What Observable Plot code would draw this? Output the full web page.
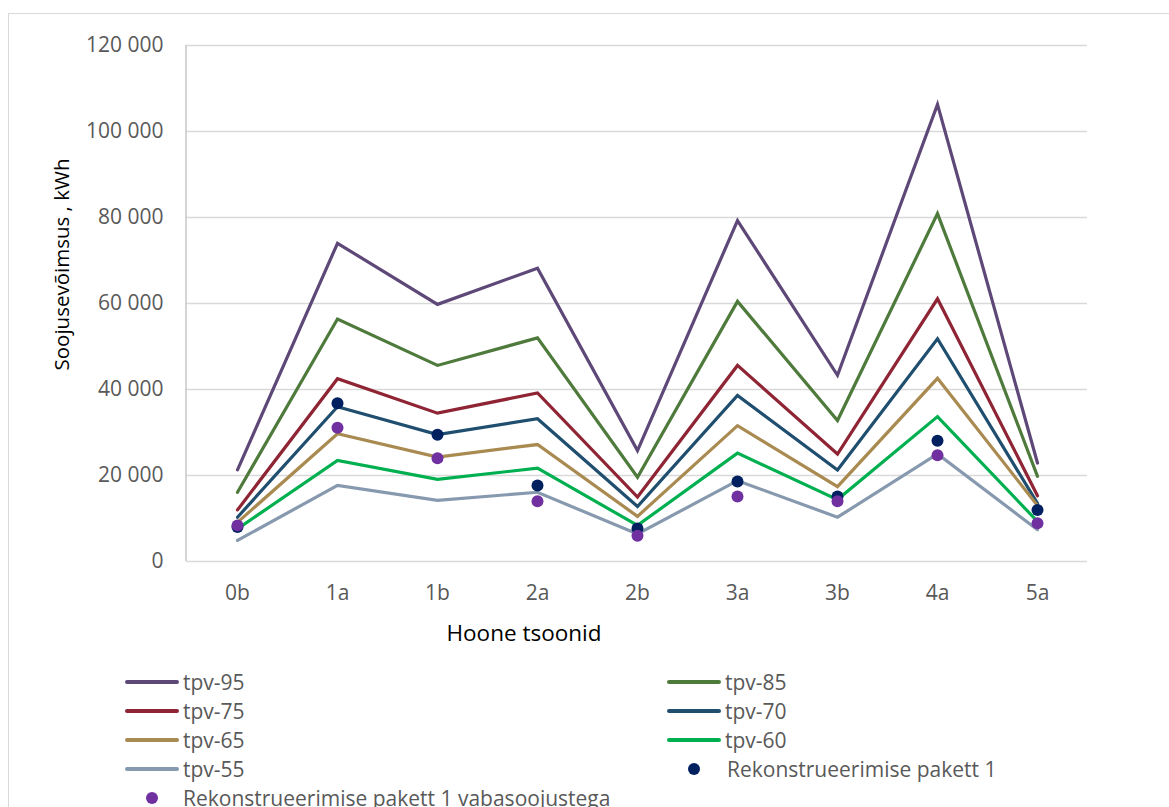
<!DOCTYPE html>
<html>
<head>
<meta charset="utf-8">
<script src="https://cdn.jsdelivr.net/npm/d3@7"></script>
<script src="https://cdn.jsdelivr.net/npm/@observablehq/plot@0.6"></script>
<style>
  html, body { margin: 0; padding: 0; background: #fff; }
  #page { position: relative; width: 1169px; height: 807px; overflow: hidden; font-family: "Open Sans", sans-serif; }
  #border { position: absolute; left: 8px; top: 13px; width: 1300px; height: 1000px; border: 1px solid #d9d9d9; box-sizing: border-box; }
  #chart { position: absolute; left: 0; top: 0; }
  .item { position: absolute; height: 30px; display: flex; align-items: center; font-size: 21px; color: #595959; white-space: nowrap; }
  .sw { width: 54px; display: flex; justify-content: center; align-items: center; margin-right: 4px; }
  .ln { width: 54px; height: 4px; border-radius: 2px; }
  .dt { width: 12px; height: 12px; border-radius: 50%; }
</style>
</head>
<body>
<div id="page">
  <div id="border"></div>
  <div id="chart"></div>
  <div id="legend"></div>
</div>
<script>
// Building zones (x categories)
const zones = ["0b", "1a", "1b", "2a", "2b", "3a", "3b", "4a", "5a"];

// Heating power per zone for each design temperature series, kWh
const tpv95 = [21300, 74000, 59800, 68200, 25800, 79300, 43300, 106300, 22900];
const tpv85 = [16100, 56400, 45600, 52000, 19600, 60500, 32800, 80900, 19800];
const tpv75 = [12000, 42500, 34500, 39200, 15000, 45600, 25000, 61100, 15300];
const tpv70 = [10300, 36000, 29500, 33200, 12800, 38600, 21300, 51800, 13500];
const tpv65 = [9100, 29700, 24300, 27200, 10500, 31600, 17400, 42600, 13000];
const tpv60 = [7600, 23500, 19100, 21700, 8400, 25200, 14400, 33700, 9300];
const tpv55 = [4900, 17700, 14200, 16100, 6400, 18800, 10300, 25000, 7400];

// Renovation package points
const pakett1 = [8000, 36800, 29500, 17700, 7700, 18600, 15100, 28100, 12000];
const pakett1Vaba = [8400, 31100, 24000, 14000, 6000, 15100, 14000, 24700, 8900];

const lineNames = ["tpv-95", "tpv-85", "tpv-75", "tpv-70", "tpv-65", "tpv-60", "tpv-55"];
const lineValues = [tpv95, tpv85, tpv75, tpv70, tpv65, tpv60, tpv55];
const lineColors = ["#5e4878", "#4e7a3c", "#8e2434", "#1f4e6f", "#a98a50", "#00b050", "#8799ae"];

const dotNames = ["Rekonstrueerimise pakett 1", "Rekonstrueerimise pakett 1 vabasoojustega"];
const dotColors = ["#002060", "#7030a0"];

const yTicks = [0, 20000, 40000, 60000, 80000, 100000, 120000];
const xTitle = "Hoone tsoonid";
const yTitle = "Soojusevõimsus , kWh";

const lineRows = lineNames.flatMap((name, s) =>
  zones.map((zone, i) => ({series: name, zone, value: lineValues[s][i]})));
const pakettRows = zones.map((zone, i) => ({zone, value: pakett1[i]}));
const vabaRows = zones.map((zone, i) => ({zone, value: pakett1Vaba[i]}));

const fmt = d => d3.format(",")(d).replace(/,/g, " ");

// Vertical value axis line along the left edge of the frame
const axisLine = (index, scales, values, dims) =>
  d3.create("svg:line")
    .attr("x1", dims.marginLeft).attr("x2", dims.marginLeft)
    .attr("y1", dims.marginTop).attr("y2", dims.height - dims.marginBottom)
    .attr("stroke", "#bfbfbf").attr("stroke-width", 1.3)
    .node();

const chart = Plot.plot({
  width: 1169,
  height: 660,
  marginLeft: 186,
  marginRight: 82,
  marginTop: 45,
  marginBottom: 99,
  style: {fontFamily: "Open Sans", fontSize: "21px", background: "transparent", overflow: "visible"},
  x: {type: "point", domain: zones, padding: 0.5},
  y: {domain: [0, 120000]},
  color: {domain: lineNames, range: lineColors},
  marks: [
    Plot.gridY(yTicks, {stroke: "#d9d9d9", strokeOpacity: 1, strokeWidth: 1.3}),
    axisLine,
    Plot.axisY(yTicks, {tickSize: 0, tickPadding: 23, tickFormat: fmt, fill: "#595959", fontSize: 21, label: null}),
    Plot.axisX({tickSize: 0, tickPadding: 24, fill: "#595959", fontSize: 21, label: null}),
    Plot.line(lineRows, {x: "zone", y: "value", z: "series", stroke: "series", strokeWidth: 3.2, strokeLinejoin: "miter", strokeMiterlimit: 10}),
    Plot.dot(pakettRows, {x: "zone", y: "value", r: 6, fill: dotColors[0]}),
    Plot.dot(vabaRows, {x: "zone", y: "value", r: 6, fill: dotColors[1]}),
    Plot.text([xTitle], {frameAnchor: "bottom", textAnchor: "middle", dx: -113, dy: 72, lineAnchor: "middle", fontSize: 22.5, fill: "#000"}),
    Plot.text([yTitle], {frameAnchor: "left", textAnchor: "middle", rotate: -90, dx: -124, dy: -39, lineAnchor: "middle", fontSize: 20.5, fill: "#000"})
  ]
});
document.getElementById("chart").appendChild(chart);

// Two-column legend below the chart
const legendItems = [
  ...lineNames.map((name, i) => ({name, color: lineColors[i], kind: "line"})),
  ...dotNames.map((name, i) => ({name, color: dotColors[i], kind: "dot"}))
];
const legend = d3.select("#legend");
legendItems.forEach((item, i) => {
  const col = i % 2, row = Math.floor(i / 2);
  const div = legend.append("div").attr("class", "item")
    .style("left", (col ? 667 : 125) + "px")
    .style("top", (682 + 29 * row - 15) + "px");
  const sw = div.append("div").attr("class", "sw");
  if (item.kind === "line") {
    sw.append("div").attr("class", "ln").style("background", item.color);
  } else {
    sw.append("div").attr("class", "dt").style("background", item.color);
    div.select(".sw").style("margin-right", col ? "6px" : "4px");
  }
  div.append("span").text(item.name);
});
</script>
</body>
</html>
